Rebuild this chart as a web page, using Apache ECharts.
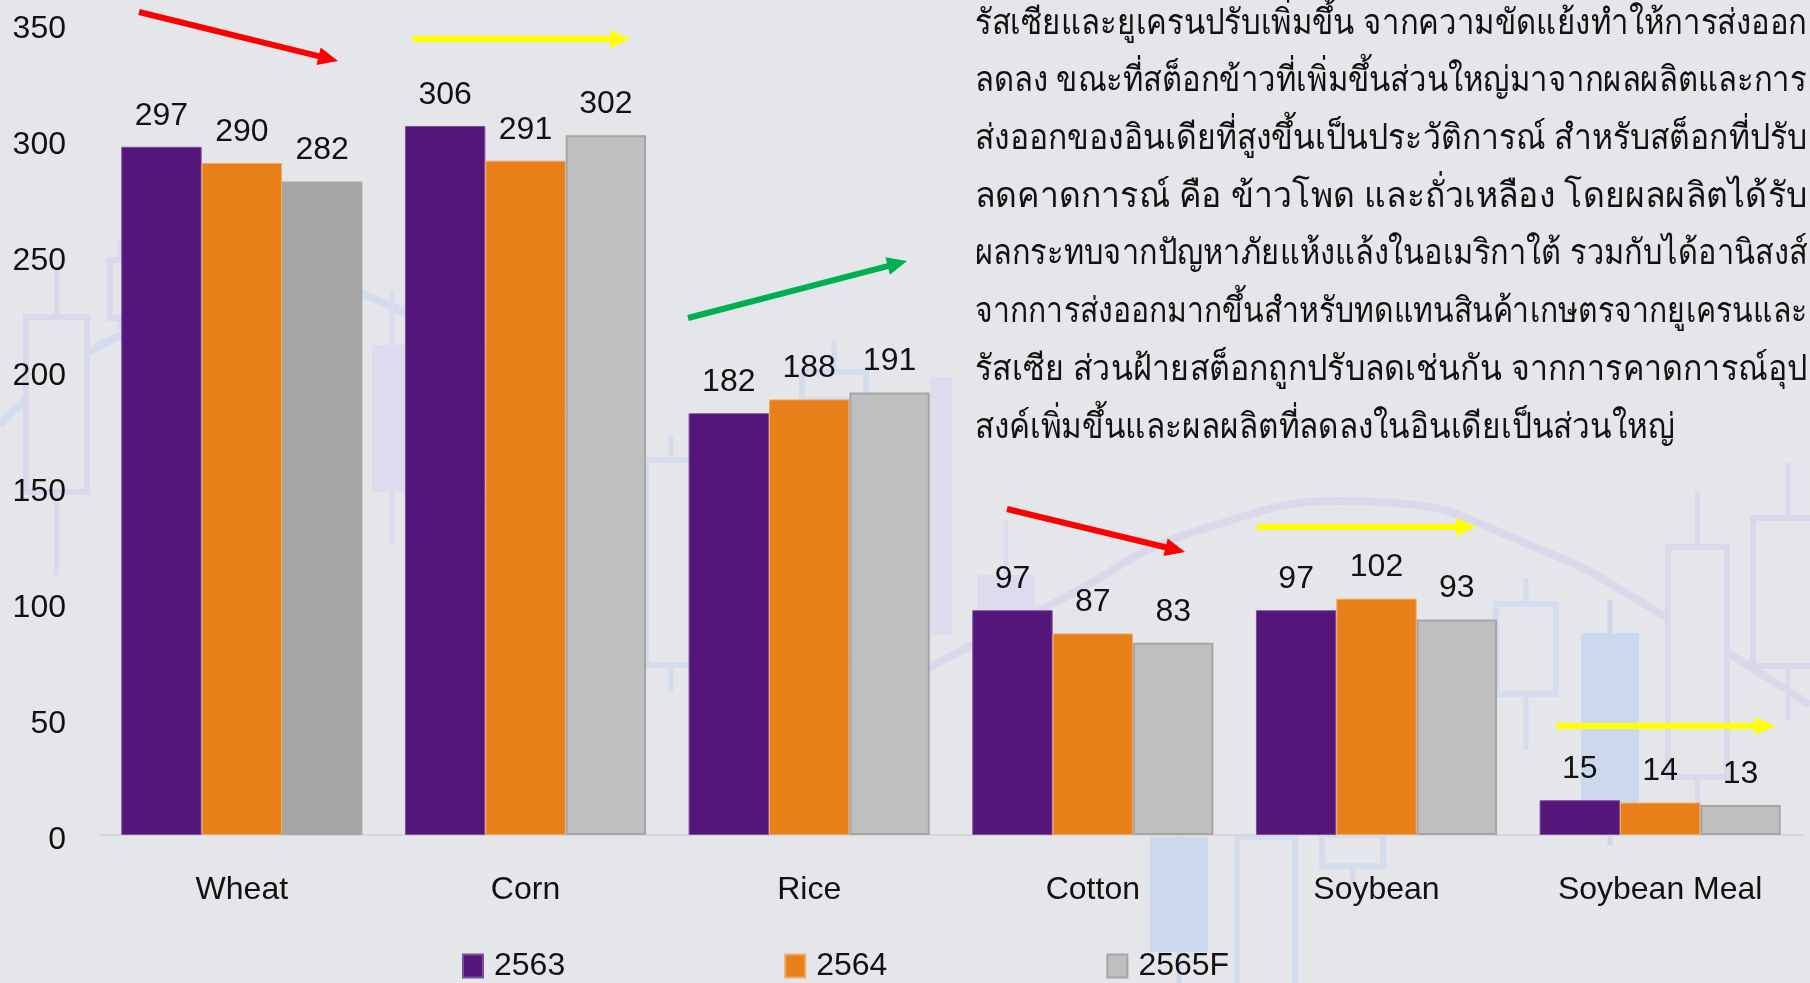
<!DOCTYPE html>
<html>
<head>
<meta charset="utf-8">
<script src="https://cdn.jsdelivr.net/npm/echarts@6/dist/echarts.min.js"></script>
<style>
html,body{margin:0;padding:0;background:#e5e6ea;}
#main{width:1810px;height:983px;}
</style>
</head>
<body>
<div id="main"></div>
<script>
const categories = ['Wheat', 'Corn', 'Rice', 'Cotton', 'Soybean', 'Soybean Meal'];
const s2563 = [297, 306, 182, 97, 97, 15];
const s2564 = [290, 291, 188, 87, 102, 14];
const s2565F = [282, 302, 191, 83, 93, 13];
const seriesNames = ['2563', '2564', '2565F'];
const yTicks = [0, 50, 100, 150, 200, 250, 300, 350];
const noteLines = [
  'รัสเซียและยูเครนปรับเพิ่มขึ้น จากความขัดแย้งทำให้การส่งออก',
  'ลดลง ขณะที่สต็อกข้าวที่เพิ่มขึ้นส่วนใหญ่มาจากผลผลิตและการ',
  'ส่งออกของอินเดียที่สูงขึ้นเป็นประวัติการณ์ สำหรับสต็อกที่ปรับ',
  'ลดคาดการณ์ คือ ข้าวโพด และถั่วเหลือง โดยผลผลิตได้รับ',
  'ผลกระทบจากปัญหาภัยแห้งแล้งในอเมริกาใต้ รวมกับได้อานิสงส์',
  'จากการส่งออกมากขึ้นสำหรับทดแทนสินค้าเกษตรจากยูเครนและ',
  'รัสเซีย ส่วนฝ้ายสต็อกถูกปรับลดเช่นกัน จากการคาดการณ์อุป',
  'สงค์เพิ่มขึ้นและผลผลิตที่ลดลงในอินเดียเป็นส่วนใหญ่'
];

const FONT = '"Liberation Sans", Arial, Helvetica, sans-serif';
const THAI_FONT = 'sans-serif';
const chart = echarts.init(document.getElementById('main'), null, {renderer: 'canvas'});

// ---- Thai note text, each line stretched to the column width (justified look)
const mctx = document.createElement('canvas').getContext('2d');
const thaiSize = 35;
mctx.font = thaiSize + 'px ' + THAI_FONT;
const textLeft = 975, textRight = 1807, textTop = 24, lineH = 57.7;
const targetW = textRight - textLeft;
const scales = noteLines.map(l => targetW / mctx.measureText(l).width);
const avgScale = scales.slice(0, 7).reduce((a, b) => a + b, 0) / 7;
const textGraphics = noteLines.map((l, i) => ({
  type: 'text',
  x: textLeft,
  y: textTop + i * lineH,
  scaleX: i < noteLines.length - 1 ? scales[i] : avgScale,
  z: 10,
  style: {text: l, font: thaiSize + 'px ' + THAI_FONT, fill: '#111', verticalAlign: 'middle', align: 'left'}
}));

// ---- trend arrows (annotations)
function arrow(x1, y1, x2, y2, color) {
  const dx = x2 - x1, dy = y2 - y1;
  const len = Math.sqrt(dx * dx + dy * dy);
  const ux = dx / len, uy = dy / len;
  const hl = 20, hw = 9;
  const bx = x2 - ux * hl, by = y2 - uy * hl;
  return {
    type: 'group', z: 20,
    children: [
      {type: 'line', shape: {x1: x1, y1: y1, x2: bx + ux * 2, y2: by + uy * 2}, style: {stroke: color, lineWidth: 6}},
      {type: 'polygon', shape: {points: [[x2, y2], [bx - uy * hw, by + ux * hw], [bx + uy * hw, by - ux * hw]]}, style: {fill: color}}
    ]
  };
}
const arrows = [
  arrow(139, 12, 338, 61, '#ff0000'),
  arrow(413, 39, 630, 39, '#ffff00'),
  arrow(688, 318, 907, 261, '#00b050'),
  arrow(1007, 509, 1185, 552, '#ff0000'),
  arrow(1257, 527, 1476, 527, '#ffff00'),
  arrow(1556, 726, 1775, 726, '#ffff00')
];

// ---- faint decorative background (wave + candlesticks)
const LAV = '#dad9ec', LAVF = '#dddcee', BLU = '#d3ddee', BLUF = '#ccd8ec';
function candle(x, w, top, bottom, wickTop, wickBottom, color, filled) {
  const cx = x + w / 2;
  return {
    type: 'group', z: -10, silent: true,
    children: [
      {type: 'line', shape: {x1: cx, y1: wickTop, x2: cx, y2: wickBottom}, style: {stroke: color, lineWidth: 5}},
      {type: 'rect', shape: {x: x, y: top, width: w, height: bottom - top},
        style: filled ? {fill: color} : {fill: '#e5e6ea', stroke: color, lineWidth: 6}}
    ]
  };
}
const decor = [
  {type: 'polyline', z: -11, silent: true,
    shape: {smooth: 0.5, points: [[0, 425], [121, 335], [300, 288], [404, 312], [550, 400], [646, 505], [720, 585], [820, 650], [928, 668]]},
    style: {stroke: BLU, lineWidth: 8, fill: null}},
  {type: 'polyline', z: -11, silent: true,
    shape: {smooth: 0.5, points: [[928, 668], [1060, 600], [1200, 530], [1378, 502], [1530, 545], [1680, 625], [1810, 705]]},
    style: {stroke: LAV, lineWidth: 8, fill: null}},
  candle(26, 61, 317, 492, 270, 575, LAV, false),
  candle(110, 20, 260, 318, 240, 330, LAV, false),
  candle(372, 40, 345, 492, 290, 545, LAVF, true),
  candle(646, 50, 460, 665, 435, 692, BLU, false),
  candle(802, 64, 372, 400, 340, 420, BLU, false),
  candle(930, 22, 377, 635, 377, 635, LAVF, true),
  candle(977, 58, 575, 612, 520, 640, LAVF, true),
  candle(1150, 58, 837, 952, 820, 983, BLUF, true),
  candle(1237, 58, 837, 990, 830, 990, BLU, false),
  candle(1322, 61, 835, 866, 820, 885, BLU, false),
  candle(1496, 60, 604, 694, 578, 750, BLU, false),
  candle(1581, 58, 633, 834, 600, 845, BLUF, true),
  candle(1668, 59, 547, 777, 491, 809, LAV, false),
  candle(1753, 70, 518, 666, 463, 720, LAV, false)
];

const labelStyle = {show: true, position: 'top', distance: 15, color: '#111', fontSize: 32, fontFamily: FONT};

const option = {
  backgroundColor: '#e5e6ea',
  animation: false,
  grid: {left: 100, right: 8, top: 24, bottom: 148},
  legend: {
    data: seriesNames,
    left: 457, bottom: -4,
    icon: 'rect',
    itemWidth: 20, itemHeight: 23, itemGap: 219,
    textStyle: {fontSize: 32, fontFamily: FONT, color: '#111', padding: [6, 0, 0, 6]}
  },
  xAxis: {
    type: 'category', data: categories,
    axisLine: {lineStyle: {color: '#d6d7db', width: 2}},
    axisTick: {show: false},
    axisLabel: {fontSize: 32, fontFamily: FONT, color: '#111', margin: 39}
  },
  yAxis: {
    type: 'value', min: 0, max: 350, interval: 50,
    axisLine: {show: false}, axisTick: {show: false}, splitLine: {show: false},
    axisLabel: {fontSize: 32, fontFamily: FONT, color: '#111', margin: 34,
      verticalAlign: 'top', lineHeight: 10,
      formatter: v => yTicks.includes(v) ? String(v) : ''}
  },
  series: [
    {name: seriesNames[0], type: 'bar', data: s2563, barGap: '0%', barCategoryGap: '15%',
      itemStyle: {color: '#54167a', borderColor: '#7a4e98', borderWidth: 1}, label: labelStyle},
    {name: seriesNames[1], type: 'bar', data: s2564,
      itemStyle: {color: '#e87f19', borderColor: '#f0aa66', borderWidth: 1}, label: labelStyle},
    {name: seriesNames[2], type: 'bar',
      data: s2565F.map((v, i) => i === 0 ? {value: v, itemStyle: {color: '#a6a6a6', borderColor: '#a6a6a6'}} : v),
      itemStyle: {color: '#bfbfbf', borderColor: '#a5a5a5', borderWidth: 2}, label: labelStyle}
  ],
  graphic: decor.concat(textGraphics, arrows)
};
chart.setOption(option);
</script>
</body>
</html>
